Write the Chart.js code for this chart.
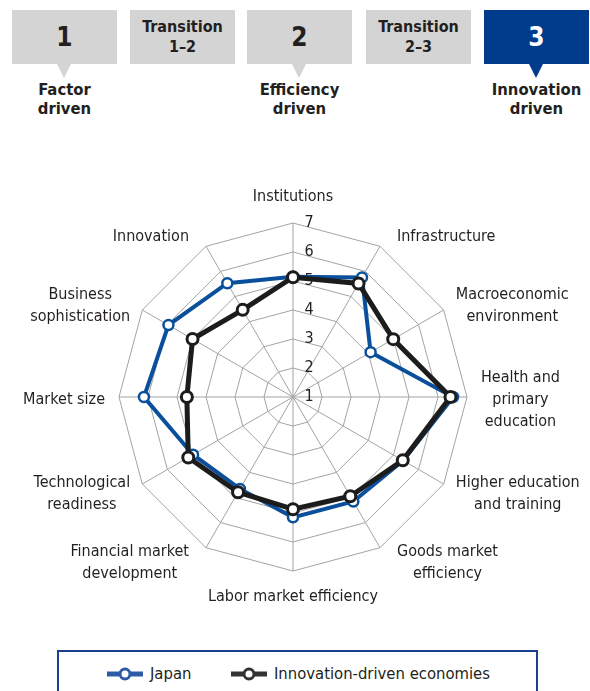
<!DOCTYPE html>
<html>
<head>
<meta charset="utf-8">
<script src="https://cdn.jsdelivr.net/npm/chart.js@4.4.1/dist/chart.umd.min.js"></script>
<style>
  body { margin: 0; width: 590px; height: 691px; overflow: hidden; background: #fff;
         font-family: "Liberation Sans Narrow", "DejaVu Sans Condensed", "Roboto", sans-serif; color: #231f20; }
  .stage { position: absolute; top: 10px; width: 105px; height: 54px; background: #d4d4d4;
           text-align: center; font-weight: bold; color: #231f20; }
  .stage.num { font-size: 26px; line-height: 54px; }
  .stage.tr { font-size: 16px; line-height: 20px; padding-top: 7px; height: 47px; }
  .stage.on { background: #003b8c; color: #fff; }
  .stage.ptr::after { content: ""; position: absolute; left: 45px; top: 54px;
           border-left: 7px solid transparent; border-right: 7px solid transparent; border-top: 14px solid #d4d4d4; }
  .stage.on.ptr::after { border-top-color: #003b8c; }
  .under { position: absolute; top: 80px; width: 105px; text-align: center; font-weight: bold; font-size: 16.5px; line-height: 19px; }
  #wrap { position: absolute; left: 0; top: 130px; width: 590px; height: 510px; }
  #legend { position: absolute; left: 57px; top: 650px; width: 477px; height: 60px; border: 2px solid #1d3f8f;
            font-size: 16.5px; }
  .item { position: absolute; top: 11px; height: 22px; line-height: 22px; }
  .item svg { position: absolute; left: 0; top: 4px; }
  .item span { position: absolute; left: 44px; white-space: nowrap; }
</style>
</head>
<body>
<div class="stage num ptr" style="left:12px">1</div>
<div class="stage tr" style="left:130px">Transition<br>1–2</div>
<div class="stage num ptr" style="left:247px">2</div>
<div class="stage tr" style="left:366px">Transition<br>2–3</div>
<div class="stage num ptr on" style="left:484px">3</div>
<div class="under" style="left:12px">Factor<br>driven</div>
<div class="under" style="left:247px">Efficiency<br>driven</div>
<div class="under" style="left:484px">Innovation<br>driven</div>

<div id="wrap"><canvas id="radar"></canvas></div>

<div id="legend">
  <div class="item" style="left:47px">
    <svg width="40" height="14"><line x1="1" y1="7" x2="37" y2="7" stroke="#2d5ca6" stroke-width="5"/><circle cx="19" cy="7" r="5" fill="#fff" stroke="#2d5ca6" stroke-width="3"/></svg>
    <span>Japan</span>
  </div>
  <div class="item" style="left:171px">
    <svg width="40" height="14"><line x1="1" y1="7" x2="37" y2="7" stroke="#333" stroke-width="5"/><circle cx="19" cy="7" r="5" fill="#fff" stroke="#333" stroke-width="3"/></svg>
    <span>Innovation-driven economies</span>
  </div>
</div>

<script>
const pillars = [
  'Institutions',
  'Infrastructure',
  ['Macroeconomic', 'environment'],
  ['Health and', 'primary', 'education'],
  ['Higher education', 'and training'],
  ['Goods market', 'efficiency'],
  'Labor market efficiency',
  ['Financial market', 'development'],
  ['Technological', 'readiness'],
  'Market size',
  ['Business', 'sophistication'],
  'Innovation'
];
const japan = [5.15, 5.76, 4.09, 6.52, 5.38, 5.16, 5.15, 4.66, 4.98, 6.14, 5.96, 5.53];
const innovationDriven = [5.13, 5.52, 4.99, 6.43, 5.37, 4.95, 4.87, 4.79, 5.17, 4.66, 5.00, 4.47];
const tickValues = [1, 2, 3, 4, 5, 6, 7];

const fontFamily = '"Liberation Sans Narrow", "DejaVu Sans Condensed", "Roboto", sans-serif';
Chart.defaults.font.family = fontFamily;

// draws the pillar names round the web (centred multi-line blocks)
const pillarLabels = {
  id: 'pillarLabels',
  afterDraw(chart) {
    const scale = chart.scales.r;
    const ctx = chart.ctx;
    const R = scale.drawingArea;
    const lh = 22;
    ctx.save();
    ctx.font = '16px ' + fontFamily;
    ctx.fillStyle = '#231f20';
    ctx.textBaseline = 'middle';
    ctx.textAlign = 'center';
    chart.data.labels.forEach((lab, i) => {
      const lines = Array.isArray(lab) ? lab : [lab];
      const a = i * Math.PI * 2 / chart.data.labels.length;
      const s = Math.sin(a), c = Math.cos(a);
      const p = scale.getPointPosition(i, R + 14);
      const w = Math.max(...lines.map(t => ctx.measureText(t).width));
      let cx = p.x, cy = p.y + 3;
      const extra = Math.abs(c) > 0.8 ? 10 : 0;
      if (s > 0.01) cx = p.x + extra + w / 2;
      else if (s < -0.01) cx = p.x - extra - w / 2;
      else cy = p.y - 12 * c;
      const top = cy - (lines.length - 1) * lh / 2;
      lines.forEach((t, k) => ctx.fillText(t, cx, top + k * lh));
    });
    ctx.restore();
  }
};

const chart = new Chart(document.getElementById('radar'), {
  type: 'radar',
  data: {
    labels: pillars,
    datasets: [{
      label: 'Japan',
      data: japan,
      borderColor: '#0a4f9c',
      borderWidth: 4,
      pointRadius: 5,
      pointBorderWidth: 2.5,
      pointBackgroundColor: '#fff',
      pointBorderColor: '#0a4f9c',
      fill: false,
      order: 1
    }, {
      label: 'Innovation-driven economies',
      data: innovationDriven,
      borderColor: '#1c1c1c',
      borderWidth: 5,
      pointRadius: 5.5,
      pointBorderWidth: 3,
      pointBackgroundColor: '#fff',
      pointBorderColor: '#1c1c1c',
      fill: false,
      order: 0
    }]
  },
  options: {
    responsive: true,
    maintainAspectRatio: false,
    animation: false,
    layout: { padding: { left: 111, right: 115, top: 85, bottom: 61 } },
    plugins: { legend: { display: false }, tooltip: { enabled: false } },
    scales: {
      r: {
        min: 1,
        max: 7,
        afterBuildTicks(scale) {
          // first tick is never labelled by Chart.js, so repeat the 1
          scale.ticks = [{ value: 1 }].concat(tickValues.map(v => ({ value: v })));
        },
        ticks: {
          font: { size: 16, lineHeight: 1.2 },
          color: '#231f20',
          backdropPadding: 0,
          showLabelBackdrop: false,
          callback: v => '       ' + v
        },
        grid: { color: '#a3a3a3', lineWidth: 1 },
        angleLines: { color: '#a3a3a3', lineWidth: 1 },
        pointLabels: { display: false }
      }
    }
  },
  plugins: [pillarLabels]
});
</script>
</body>
</html>
